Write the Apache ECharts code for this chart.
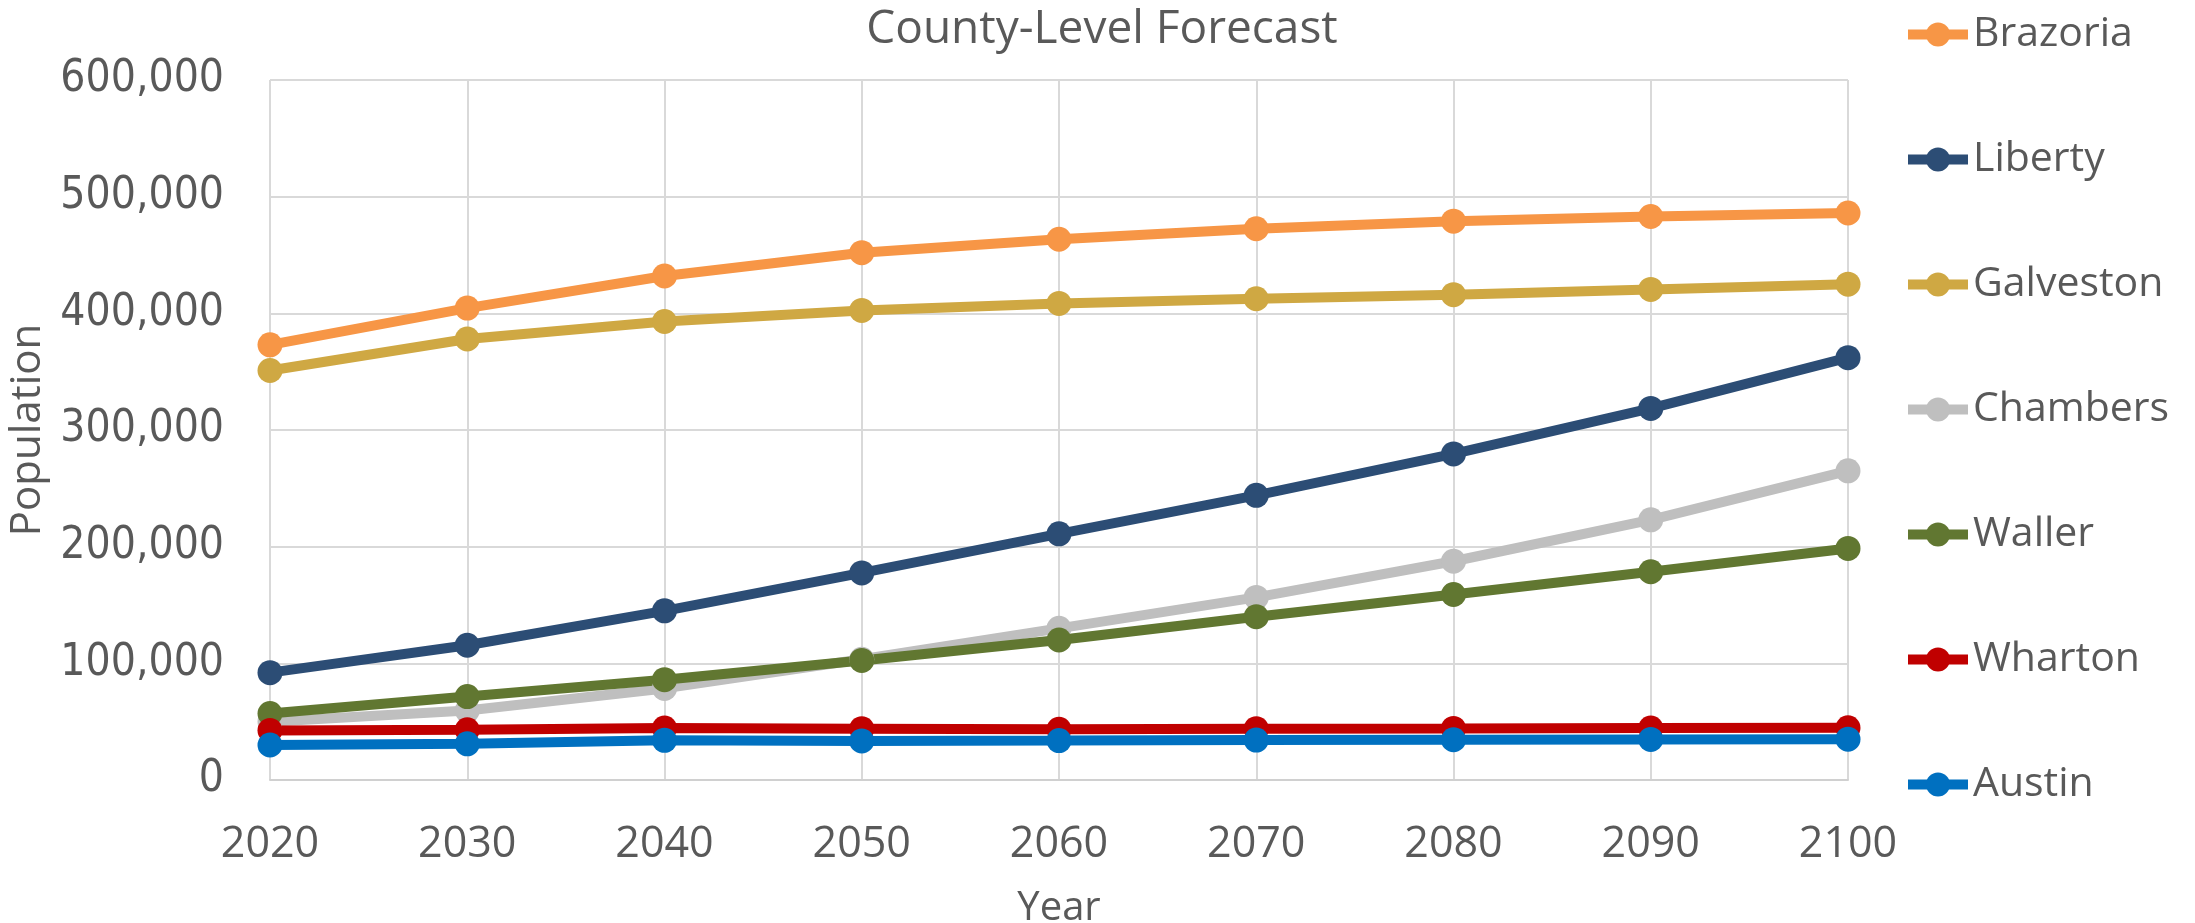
<!DOCTYPE html>
<html>
<head>
<meta charset="utf-8">
<title>County-Level Forecast</title>
<script src="https://cdn.jsdelivr.net/npm/echarts@6/dist/echarts.min.js"></script>
<style>
  html, body { margin: 0; padding: 0; background: #ffffff; }
  #chart { width: 2195px; height: 923px; }
</style>
</head>
<body>
<div id="chart"></div>
<script>
// Forecast years (x axis categories)
const years = ['2020', '2030', '2040', '2050', '2060', '2070', '2080', '2090', '2100'];

// Projected population per county
const brazoria  = [373000, 404500, 432000, 452000, 463500, 472500, 479000, 483000, 486000];
const liberty   = [92000, 115500, 145000, 177500, 211000, 244000, 279500, 318500, 362000];
const galveston = [351000, 378000, 393000, 402500, 408500, 412500, 416000, 420500, 425000];
const chambers  = [50000, 59500, 78500, 103500, 130000, 156500, 187500, 223000, 265000];
const waller    = [57000, 71500, 86000, 102500, 120000, 140000, 159000, 178500, 198500];
const wharton   = [42500, 43000, 44500, 44000, 43500, 44000, 44200, 44500, 44800];
const austin    = [30000, 31000, 34000, 33500, 33800, 34200, 34500, 34800, 35000];

// Value axis ticks
const yTicks = [0, 100000, 200000, 300000, 400000, 500000, 600000];

const countySeries = [
  { name: 'Brazoria',  data: brazoria,  color: '#F79646' },
  { name: 'Liberty',   data: liberty,   color: '#2C4D75' },
  { name: 'Galveston', data: galveston, color: '#CFA843' },
  { name: 'Chambers',  data: chambers,  color: '#BFBFBF' },
  { name: 'Waller',    data: waller,    color: '#617731' },
  { name: 'Wharton',   data: wharton,   color: '#C00000' },
  { name: 'Austin',    data: austin,    color: '#0070C0' }
];

const textColor = '#595959';
const gridColor = '#D9D9D9';

const chart = echarts.init(document.getElementById('chart'), null, { renderer: 'canvas' });

chart.setOption({
  backgroundColor: '#ffffff',
  animation: false,
  graphic: [{
    type: 'text',
    x: 1102,
    y: 30,
    style: {
      text: 'County-Level Forecast',
      fontFamily: 'Open Sans',
      fontSize: 46,
      fill: textColor,
      textAlign: 'center',
      textVerticalAlign: 'middle'
    }
  }],
  legend: {
    orient: 'vertical',
    left: 1903,
    top: 14,
    padding: 0,
    itemWidth: 60,
    itemHeight: 30,
    itemGap: 84,
    lineStyle: { width: 10 },
    textStyle: {
      fontFamily: 'Open Sans',
      fontSize: 41,
      lineHeight: 41,
      color: textColor
    },
    data: countySeries.map(s => s.name)
  },
  grid: {
    left: 270,
    right: 347,
    top: 80,
    bottom: 143,
    containLabel: false,
    outerBoundsMode: 'none'
  },
  xAxis: {
    type: 'category',
    data: years,
    boundaryGap: false,
    name: 'Year',
    nameLocation: 'middle',
    nameGap: 109,
    nameTextStyle: { fontFamily: 'Open Sans', fontSize: 40, color: textColor },
    axisLine: { show: true, lineStyle: { color: '#D0D0D0', width: 2 } },
    axisTick: { show: false },
    axisLabel: {
      fontFamily: 'Open Sans',
      fontSize: 43,
      color: textColor,
      margin: 43
    },
    splitLine: { show: true, lineStyle: { color: gridColor, width: 2 } }
  },
  yAxis: {
    type: 'value',
    min: yTicks[0],
    max: yTicks[yTicks.length - 1],
    interval: yTicks[1] - yTicks[0],
    name: 'Population',
    nameLocation: 'middle',
    nameRotate: 90,
    nameGap: 238,
    nameTextStyle: { fontFamily: 'Open Sans', fontSize: 42, color: textColor, verticalAlign: 'middle' },
    axisLine: { show: false },
    axisTick: { show: false },
    axisLabel: {
      fontFamily: '"DejaVu Sans Condensed", "Liberation Sans Narrow", "DejaVu Sans"',
      fontSize: 44,
      color: textColor,
      margin: 46,
      formatter: v => v.toLocaleString('en-US')
    },
    splitLine: { show: true, lineStyle: { color: gridColor, width: 2 } }
  },
  series: countySeries.map(s => ({
    name: s.name,
    type: 'line',
    data: s.data,
    symbol: 'circle',
    symbolSize: 25,
    showSymbol: true,
    color: s.color,
    lineStyle: { color: s.color, width: 10 },
    itemStyle: { color: s.color }
  }))
});
</script>
</body>
</html>
